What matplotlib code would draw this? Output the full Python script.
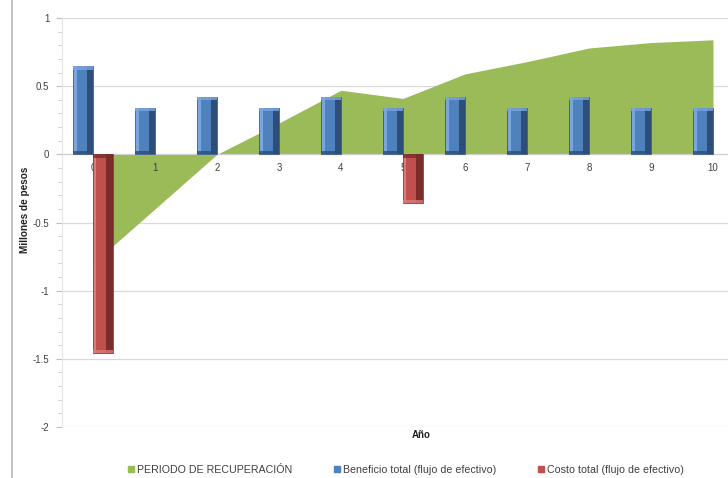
import matplotlib.pyplot as plt
import numpy as np
from matplotlib.lines import Line2D
from matplotlib.patches import Patch

plt.rcParams["font.family"] = ["Liberation Sans", "DejaVu Sans"]

# Flujos por año (millones de pesos)
anios = list(range(11))
beneficio = [0.645, 0.34, 0.42, 0.34, 0.42, 0.34, 0.42, 0.34, 0.42, 0.34, 0.34]
costo = [-1.46, 0, 0, 0, 0, -0.36, 0, 0, 0, 0, 0]
recuperacion = [-0.80, -0.40, 0.0, 0.23, 0.47, 0.41, 0.59, 0.68, 0.78, 0.82, 0.84]

y_ticks = [1, 0.5, 0, -0.5, -1, -1.5, -2]
y_labels = ["1", "0.5", "0", "-0.5", "-1", "-1.5", "-2"]

VERDE = "#9bbb59"
AZUL = ("#4f81bd", "#7aa6e0", "#2c4e78")
ROJO = ("#c0504d", "#dc7a77", "#7a2d2b")
TXT = "#404040"


def bevel_bars(ax, x, h, w, colors):
    base, light, dark = colors
    x = np.asarray(x, dtype=float)
    h = np.asarray(h, dtype=float)
    keep = h != 0
    x, h = x[keep], h[keep]
    ax.bar(x, h, w, color=base, edgecolor=dark, linewidth=0.5, zorder=3)
    # cara derecha oscura y filo izquierdo claro
    ax.bar(x + w * 0.34, h, w * 0.32, color=dark, linewidth=0, zorder=4)
    ax.bar(x - w * 0.40, h, w * 0.14, color=light, linewidth=0, zorder=4)
    # biseles de los extremos
    cap = np.sign(h) * 0.025
    ax.bar(x, cap, w, bottom=h - cap, color=light, linewidth=0, zorder=4, alpha=0.8)
    ax.bar(x, cap, w, color=dark, linewidth=0, zorder=4, alpha=0.8)


fig = plt.figure(figsize=(7.28, 4.78), dpi=100)
ax = fig.add_axes([62 / 728, 51 / 478, 682 / 728, 409 / 478])

ax.fill_between(anios, 0, recuperacion, color=VERDE, linewidth=0, zorder=1)

w = 0.32
x = np.array(anios, dtype=float)
bevel_bars(ax, x - w / 2, beneficio, w, AZUL)
bevel_bars(ax, x + w / 2, costo, w, ROJO)

ax.set_xlim(-0.5, 10.5)
ax.set_ylim(-2, 1)

ax.set_yticks(y_ticks)
ax.set_yticklabels(y_labels)
ax.set_yticks(np.arange(-2, 1.01, 0.1), minor=True)
ax.yaxis.grid(True, which="major", color="#d9d9d9", linewidth=0.9)
ax.tick_params(axis="y", which="major", length=4, color="#bfbfbf",
               labelsize=7, labelcolor=TXT, pad=5)
ax.tick_params(axis="y", which="minor", length=3, color="#c8c8c8")

ax.set_xticks(anios)
ax.set_xticklabels([str(a) for a in anios])
ax.tick_params(axis="x", length=0, labelsize=7, labelcolor=TXT, pad=6)
ax.spines["bottom"].set_position(("data", 0))
ax.spines["bottom"].set_color("#d0d0d0")
ax.spines["left"].set_color("#e6e6e6")
ax.spines["top"].set_visible(False)
ax.spines["right"].set_visible(False)

ax.set_axisbelow(True)
ax.xaxis.set_zorder(2.5)

fig.text(25 / 728, 1 - 210 / 478, "Millones de pesos", rotation=90,
         ha="center", va="center", fontsize=7.2, fontweight="bold", color="#202020")
fig.text(421 / 728, 1 - 435 / 478, "Año", ha="center", va="center",
         fontsize=7, fontweight="bold", color="#202020")

# borde izquierdo del área del gráfico
fig.add_artist(Line2D([12 / 728, 12 / 728], [0, 1], color="#b8b8b8", linewidth=1.2))

handles = [Patch(color=VERDE), Patch(color=AZUL[0]), Patch(color=ROJO[0])]
labels = ["PERIODO DE RECUPERACIÓN", "Beneficio total (flujo de efectivo)",
          "Costo total (flujo de efectivo)"]
fig.legend(handles, labels, loc="center", bbox_to_anchor=(406 / 728, 1 - 470 / 478),
           ncol=3, frameon=False, fontsize=7.7, labelcolor=TXT,
           handlelength=0.55, handleheight=0.55, handletextpad=0.3, columnspacing=3.9)

fig.savefig("out.png", dpi=100)
